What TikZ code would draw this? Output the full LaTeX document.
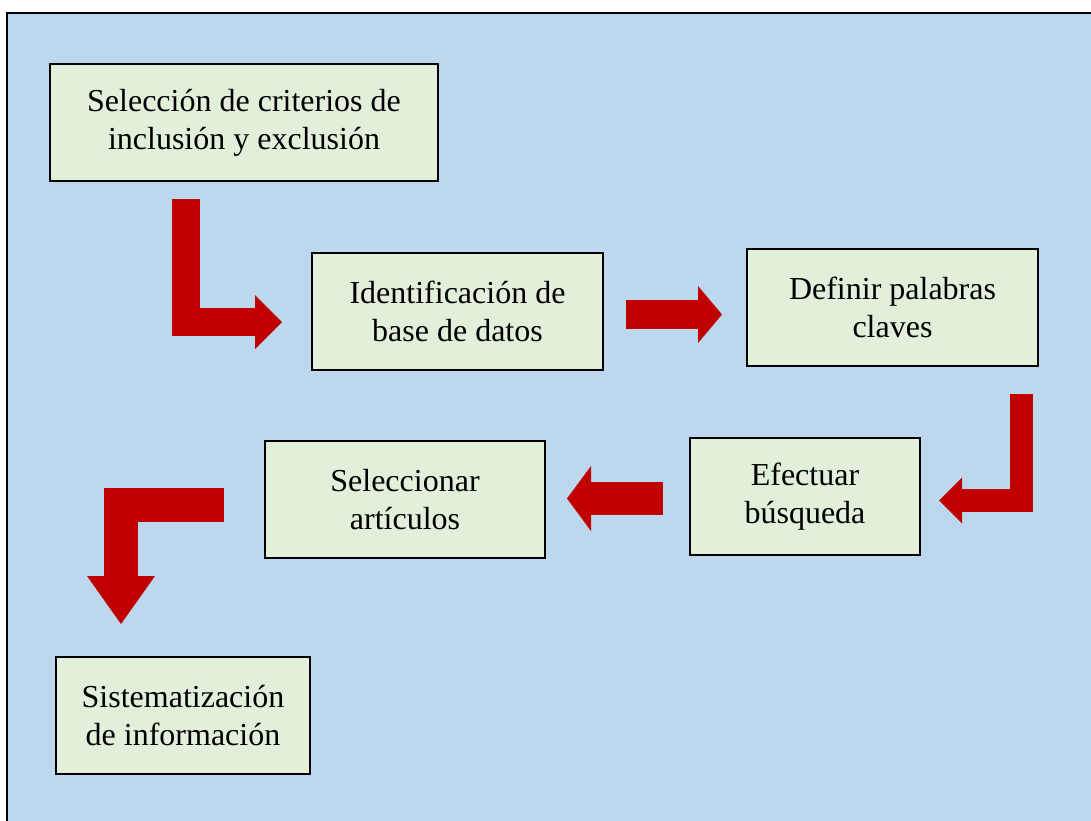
\documentclass[tikz,border=0pt]{standalone}
\usepackage{fontspec}
\setmainfont{Liberation Serif}
\usetikzlibrary{arrows.meta, positioning}

\definecolor{panelblue}{RGB}{189,215,238}
\definecolor{boxgreen}{RGB}{226,239,218}
\definecolor{arrowred}{RGB}{192,0,0}

\tikzset{
  stepbox/.style={draw=black, line width=1pt, fill=boxgreen, inner sep=0pt,
    minimum height=58.5pt, align=center,
    font=\fontsize{16}{19}\selectfont},
  fatarrow/.style={draw=arrowred, line cap=butt, line join=miter},
}

\begin{document}
\begin{tikzpicture}[x=0.5pt, y=-0.5pt]
    \clip (0,0) rectangle (1091,820);
    % panel
    \draw[fill=panelblue, line width=1pt] (7,13) rectangle (1110,840);

    % steps
    \node[stepbox, minimum width=194pt] (criterios) at (244,122.5)
        {Selección de criterios de\\inclusión y exclusión};
    \node[stepbox, minimum width=145.5pt] (basedatos) at (457.5,311.5)
        {Identificación de\\base de datos};
    \node[stepbox, minimum width=145.5pt] (palabras) at (892.5,307.5)
        {Definir palabras\\claves};
    \node[stepbox, minimum width=115pt] (busqueda) at (805,496.5)
        {Efectuar\\búsqueda};
    \node[stepbox, minimum width=140pt] (articulos) at (405,499.5)
        {Seleccionar\\artículos};
    \node[stepbox, minimum width=127pt] (sistema) at (183,715.5)
        {Sistematización\\de información};

    % arrow ends
    \coordinate (a1s) at (186,199);   \coordinate (a1e) at (282,322);
    \coordinate (a2s) at (626,314.5); \coordinate (a2e) at (722,314.5);
    \coordinate (a3s) at (1021.5,394); \coordinate (a3e) at (939,500.5);
    \coordinate (a4s) at (663,498.5); \coordinate (a4e) at (567,498.5);
    \coordinate (a5s) at (224,505);   \coordinate (a5e) at (121,624);

    % block arrows
    \draw[fatarrow, line width=14pt,
        -{Triangle[length=13.5pt, width=27pt, line width=0pt, fill=arrowred]}]
        (a1s) |- (a1e);
    \draw[fatarrow, line width=14.5pt,
        -{Triangle[length=12pt, width=28.5pt, line width=0pt, fill=arrowred]}]
        (a2s) -- (a2e);
    \draw[fatarrow, line width=11.5pt,
        -{Triangle[length=11.5pt, width=23pt, line width=0pt, fill=arrowred]}]
        (a3s) |- (a3e);
    \draw[fatarrow, line width=16.5pt,
        -{Triangle[length=12pt, width=32.5pt, line width=0pt, fill=arrowred]}]
        (a4s) -- (a4e);
    \draw[fatarrow, line width=17pt,
        -{Triangle[length=24pt, width=34pt, line width=0pt, fill=arrowred]}]
        (a5s) -| (a5e);
\end{tikzpicture}
\end{document}
